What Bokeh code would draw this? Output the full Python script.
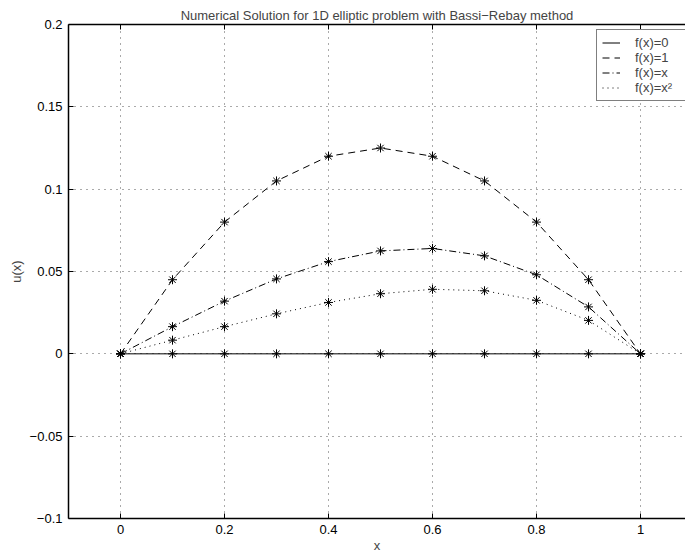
from bokeh.plotting import figure
from bokeh.models import Range1d, FixedTicker, LinearAxis, Legend, LegendItem
from bokeh.embed import file_html
from bokeh.resources import INLINE

# ---- data ----
x = [0.0, 0.1, 0.2, 0.3, 0.4, 0.5, 0.6, 0.7, 0.8, 0.9, 1.0]
u_f0 = [0, 0, 0, 0, 0, 0, 0, 0, 0, 0, 0]
u_f1 = [0, 0.045, 0.080, 0.105, 0.120, 0.125, 0.120, 0.105, 0.080, 0.045, 0]
u_fx = [0, 0.0165, 0.032, 0.0455, 0.056, 0.0625, 0.064, 0.0595, 0.048, 0.0285, 0]
u_fx2 = [0, 0.0083, 0.0165, 0.0243, 0.0312, 0.0365, 0.0392, 0.0383, 0.0325, 0.0203, 0]

series_labels = ["f(x)=0", "f(x)=1", "f(x)=x", "f(x)=x²"]
x_ticks = [0, 0.2, 0.4, 0.6, 0.8, 1]
x_tick_labels = ["0", "0.2", "0.4", "0.6", "0.8", "1"]
y_ticks = [-0.1, -0.05, 0, 0.05, 0.1, 0.15, 0.2]
y_tick_labels = ["−0.1", "−0.05", "0", "0.05", "0.1", "0.15", "0.2"]

FONT = "Liberation Sans"
FS = "13px"

p = figure(width=685, height=556, output_backend="svg", toolbar_location=None,
           x_range=Range1d(-0.1, 1.0865), y_range=Range1d(-0.1, 0.2),
           min_border_left=68, min_border_right=0, min_border_top=24, min_border_bottom=38,
           background_fill_color="white", border_fill_color="white")
p.outline_line_color = None

p.title.text = "Numerical Solution for 1D elliptic problem with Bassi−Rebay method"
p.title.text_font = FONT
p.title.text_font_size = FS
p.title.text_font_style = "normal"
p.title.align = "center"
p.title.offset = 0
p.title.standoff = 4

xt = FixedTicker(ticks=x_ticks)
yt = FixedTicker(ticks=y_ticks)

def style_axis(ax, ticker, labels=None, ticks=None):
    ax.ticker = ticker
    ax.major_tick_in = 5
    ax.major_tick_out = 0
    ax.minor_tick_line_color = None
    ax.axis_line_width = 1.5
    ax.axis_line_color = "black"
    ax.major_tick_line_color = "black"
    ax.major_label_text_font = FONT
    ax.major_label_text_font_size = FS
    ax.major_label_text_color = "black"
    ax.axis_label_text_font = FONT
    ax.axis_label_text_font_size = FS
    ax.axis_label_text_font_style = "normal"
    if labels is not None:
        ax.major_label_overrides = {t: l for t, l in zip(ticks, labels)}

xa = p.xaxis[0]
style_axis(xa, xt, x_tick_labels, x_ticks)
xa.axis_label = "x"
xa.major_label_standoff = 6
xa.axis_label_standoff = 1

ya = p.yaxis[0]
style_axis(ya, yt, y_tick_labels, y_ticks)
ya.axis_label = "u(x)"
ya.major_label_standoff = 6
ya.axis_label_standoff = 3

top = LinearAxis()
style_axis(top, xt)
top.major_label_text_font_size = "1px"
top.major_label_text_color = None
top.major_label_standoff = 0
p.add_layout(top, "above")

for g in (p.xgrid[0], p.ygrid[0]):
    g.grid_line_color = "#555555"
    g.grid_line_dash = "1 5"
    g.grid_line_width = 1
p.xgrid[0].ticker = xt
p.ygrid[0].ticker = yt

r0 = p.line(x, u_f0, line_color="black", line_width=1)
r1 = p.line(x, u_f1, line_color="black", line_width=1, line_dash="7 5")
r2 = p.line(x, u_fx, line_color="black", line_width=1, line_dash="7 3 1 3")
r3 = p.line(x, u_fx2, line_color="black", line_width=1, line_dash="1 4")

for ys in (u_f0, u_f1, u_fx, u_fx2):
    p.scatter(x, ys, marker="asterisk", size=9, line_color="black", line_width=1)

legend = Legend(items=[LegendItem(label=series_labels[0], renderers=[r0]),
                       LegendItem(label=series_labels[1], renderers=[r1]),
                       LegendItem(label=series_labels[2], renderers=[r2]),
                       LegendItem(label=series_labels[3], renderers=[r3])],
                location=(528, 417))
legend.border_line_color = "black"
legend.border_line_width = 1.5
legend.background_fill_color = "white"
legend.background_fill_alpha = 1
legend.padding = 5
legend.margin = 0
legend.spacing = 0
legend.glyph_width = 18
legend.glyph_height = 15
legend.label_standoff = 15
legend.label_width = 120
legend.label_height = 15
legend.label_text_font = FONT
legend.label_text_font_size = FS
p.add_layout(legend)

open("out.html", "w").write(file_html(p, INLINE))
